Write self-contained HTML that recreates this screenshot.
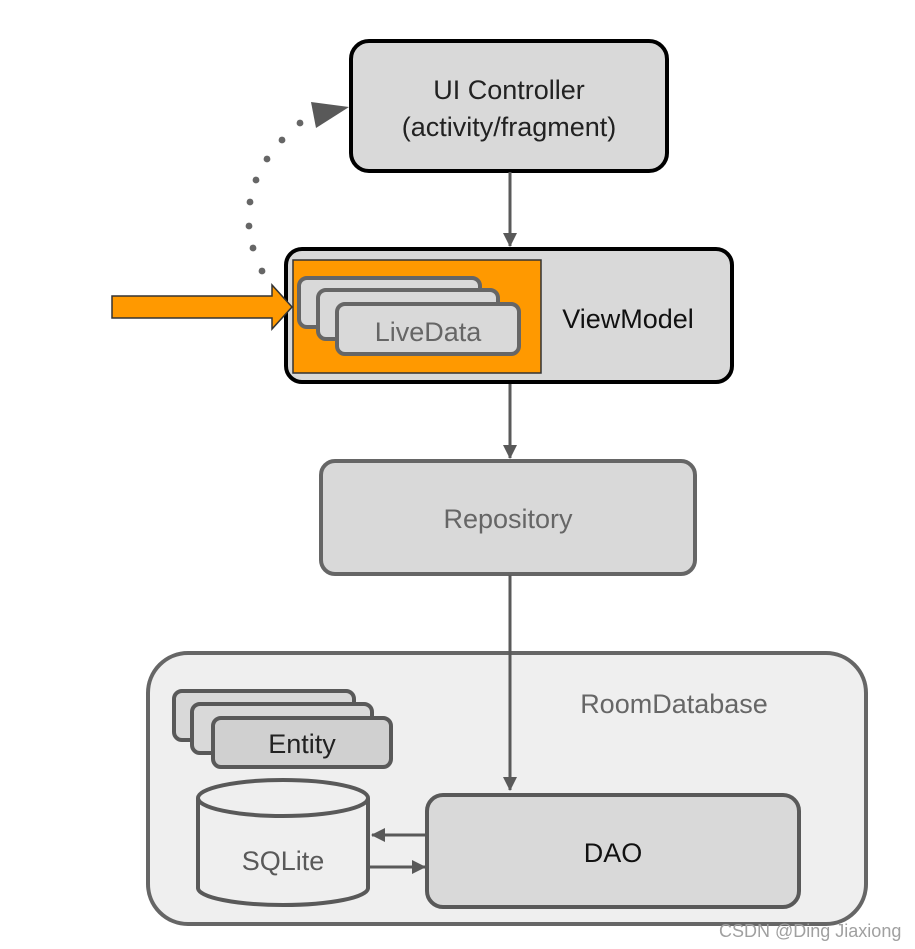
<!DOCTYPE html>
<html><head><meta charset="utf-8"><style>
html,body{margin:0;padding:0;background:#fff;}
svg{display:block;}
text{font-family:"Liberation Sans",Arial,sans-serif;}
</style></head><body>
<svg width="915" height="949" viewBox="0 0 915 949" xmlns="http://www.w3.org/2000/svg">
<defs>
<marker id="ah2" markerWidth="14" markerHeight="14" refX="13" refY="7" orient="auto" markerUnits="userSpaceOnUse" viewBox="0 0 14 14">
<path d="M0,0 L14,7 L0,14 z" fill="#595959"/></marker>
</defs>
<!-- UI Controller -->
<rect x="351" y="41" width="316" height="130" rx="18" fill="#d9d9d9" stroke="#000" stroke-width="4"/>
<text x="509" y="99" font-size="27" text-anchor="middle" fill="#222">UI Controller</text>
<text x="509" y="136" font-size="27" text-anchor="middle" fill="#222">(activity/fragment)</text>
<line x1="510" y1="172" x2="510" y2="246" stroke="#595959" stroke-width="3" marker-end="url(#ah2)"/>
<!-- dotted arc -->
<g fill="#666">
<circle cx="300" cy="123" r="3.4"/><circle cx="282" cy="140" r="3.4"/><circle cx="267" cy="159" r="3.4"/>
<circle cx="256" cy="180" r="3.4"/><circle cx="250" cy="202" r="3.4"/><circle cx="249" cy="226" r="3.4"/>
<circle cx="253" cy="248" r="3.4"/><circle cx="262" cy="271" r="3.4"/>
</g>
<path d="M311,102 L349,107 L316,128 z" fill="#595959"/>
<!-- ViewModel -->
<rect x="286" y="249" width="446" height="133" rx="16" fill="#d9d9d9" stroke="#000" stroke-width="4"/>
<rect x="293" y="260" width="248" height="113" fill="#ff9900" stroke="#333" stroke-width="1.5"/>
<rect x="299" y="278" width="181" height="49" rx="8" fill="#d9d9d9" stroke="#666" stroke-width="4"/>
<rect x="318" y="290" width="180" height="49" rx="8" fill="#d9d9d9" stroke="#666" stroke-width="4"/>
<rect x="337" y="304" width="182" height="50" rx="8" fill="#d9d9d9" stroke="#666" stroke-width="4"/>
<text x="428" y="341" font-size="27" text-anchor="middle" fill="#666">LiveData</text>
<text x="628" y="328" font-size="27" text-anchor="middle" fill="#111">ViewModel</text>
<!-- orange arrow -->
<path d="M112,296 L272,296 L272,285 L292,307 L272,329 L272,318 L112,318 z" fill="#ff9900" stroke="#333" stroke-width="1.5"/>
<line x1="510" y1="384" x2="510" y2="458" stroke="#595959" stroke-width="3" marker-end="url(#ah2)"/>
<!-- Repository -->
<rect x="321" y="461" width="374" height="113" rx="14" fill="#d9d9d9" stroke="#666" stroke-width="4"/>
<text x="508" y="528" font-size="27" text-anchor="middle" fill="#666">Repository</text>
<!-- RoomDatabase -->
<rect x="148" y="653" width="718" height="271" rx="40" fill="#efefef" stroke="#666" stroke-width="4"/>
<text x="674" y="713" font-size="27" text-anchor="middle" fill="#666">RoomDatabase</text>
<line x1="510" y1="575" x2="510" y2="790" stroke="#595959" stroke-width="3" marker-end="url(#ah2)"/>
<!-- Entity -->
<rect x="174" y="691" width="180" height="49" rx="8" fill="#d9d9d9" stroke="#595959" stroke-width="4"/>
<rect x="192" y="704" width="180" height="49" rx="8" fill="#d9d9d9" stroke="#595959" stroke-width="4"/>
<rect x="213" y="718" width="178" height="49" rx="8" fill="#d0d0d0" stroke="#595959" stroke-width="4"/>
<text x="302" y="753" font-size="27" text-anchor="middle" fill="#222">Entity</text>
<!-- SQLite -->
<path d="M198,798 L198,888 A85,17 0 0 0 368,888 L368,798" fill="#efefef" stroke="#595959" stroke-width="4"/>
<ellipse cx="283" cy="798" rx="85" ry="18" fill="#efefef" stroke="#595959" stroke-width="4"/>
<text x="283" y="870" font-size="27" text-anchor="middle" fill="#595959">SQLite</text>
<!-- DAO -->
<rect x="427" y="795" width="372" height="112" rx="16" fill="#d9d9d9" stroke="#595959" stroke-width="4"/>
<text x="613" y="862" font-size="27" text-anchor="middle" fill="#111">DAO</text>
<line x1="426" y1="835" x2="372" y2="835" stroke="#595959" stroke-width="3" marker-end="url(#ah2)"/>
<line x1="370" y1="867" x2="425" y2="867" stroke="#595959" stroke-width="3" marker-end="url(#ah2)"/>
<!-- watermark -->
<text x="719" y="937" font-size="18" fill="#a0a0a0">CSDN @Ding Jiaxiong</text>
</svg>
</body></html>
